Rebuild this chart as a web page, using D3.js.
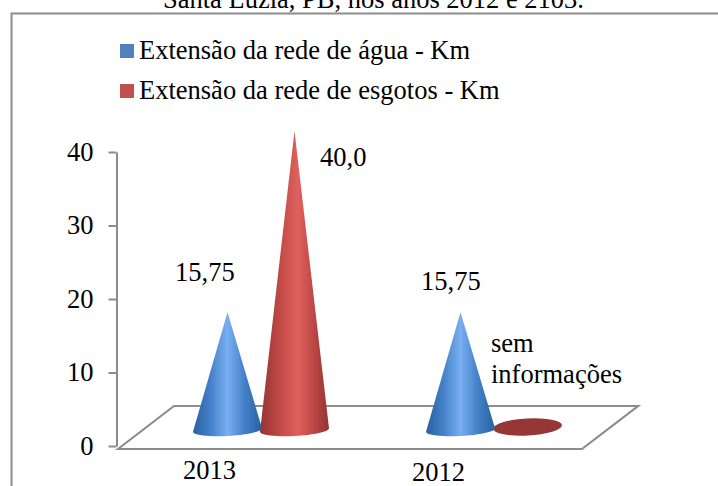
<!DOCTYPE html>
<html><head><meta charset="utf-8">
<script src="https://cdn.jsdelivr.net/npm/d3@7"></script>
<style>html,body{margin:0;padding:0;background:#fff;overflow:hidden}svg{display:block}text{font-family:"Liberation Serif",serif;fill:#000}</style>
</head><body><svg id="c" width="718" height="486"></svg>
<script>
const categories = ["2013", "2012"];
const seriesNames = ["Extensão da rede de água - Km", "Extensão da rede de esgotos - Km"];
const agua = [15.75, 15.75];
const esgotos = [40.0, 0];
const aguaLabels = ["15,75", "15,75"];
const esgotosLabels = ["40,0", "sem informações"];
const yTicks = [0, 10, 20, 30, 40];
const titleText = "Santa Luzia, PB, nos anos 2012 e 2103.";

const svg = d3.select("#c");
const FONT = 26.5, GREY = "#8c8c8c";
svg.append("text").attr("x", 373.5).attr("y", 8).attr("text-anchor", "middle").style("font-size", FONT + "px").text(titleText);
svg.append("rect").attr("x", 11.5).attr("y", 13.5).attr("width", 760).attr("height", 520).attr("fill", "#fff").attr("stroke", GREY).attr("stroke-width", 2);

const y = d3.scaleLinear().domain([0, 40]).range([446, 152]);
const yCone = d3.scaleLinear().domain([0, 40]).range([430, 131]);
const xBand = d3.scaleBand().domain(categories).range([144.5, 610.5]);
const xSeries = d3.scaleBand().domain(seriesNames).range([-67, 67]);

const defs = svg.append("defs");
function grad(id, stops) {
  const g = defs.append("linearGradient").attr("id", id).attr("x1", "0").attr("x2", "1").attr("y1", "0").attr("y2", "0");
  stops.forEach(s => g.append("stop").attr("offset", s[0]).attr("stop-color", s[1]));
}
grad("gBlue", [[0, "#2a619f"], [0.25, "#4380c8"], [0.5, "#79aef0"], [0.75, "#4380c8"], [1, "#2a619f"]]);
grad("gRed", [[0, "#933533"], [0.25, "#bb4643"], [0.55, "#e0605c"], [0.8, "#b84542"], [1, "#933533"]]);

// floor
const floorPts = [[118, 449], [174, 406], [638, 406], [582, 449]];
svg.append("path").attr("d", d3.line()(floorPts) + "Z").attr("fill", "none").attr("stroke", GREY).attr("stroke-width", 2.2);

// axis
const axis = d3.axisLeft(y).tickValues(yTicks).tickSize(8).tickSizeOuter(0).tickPadding(15);
const gA = svg.append("g").attr("transform", "translate(116.5,0)").call(axis);
gA.selectAll("path,line").attr("stroke", GREY).attr("stroke-width", 2);
gA.selectAll("text").style("font-size", FONT + "px").style("font-family", '"Liberation Serif",serif').attr("fill", "#000");

// cones, with a base ellipse that tilts slightly upward to the right
const RX = 34.5, RY = 6, TILT = 0.05;
function cone(cx, value, fill) {
  const base = yCone(0), top = yCone(value);
  const p = d3.path();
  p.moveTo(cx - RX, base + RX * TILT);
  p.lineTo(cx, top);
  p.lineTo(cx + RX, base - RX * TILT);
  d3.range(0, 25).map(i => i / 24 * Math.PI).forEach(a => {
    const dx = RX * Math.cos(a);
    p.lineTo(cx + dx, base + RY * Math.sin(a) - dx * TILT);
  });
  p.closePath();
  svg.append("path").attr("d", p.toString()).attr("fill", fill);
}
categories.forEach((c, i) => {
  const mid = xBand(c) + xBand.bandwidth() / 2;
  const cxA = mid + xSeries(seriesNames[0]) + xSeries.bandwidth() / 2;
  const cxE = mid + xSeries(seriesNames[1]) + xSeries.bandwidth() / 2;
  if (esgotos[i] > 0) cone(cxE, esgotos[i], "url(#gRed)");
  else svg.append("ellipse").attr("cx", cxE).attr("cy", yCone(0) - 3).attr("rx", RX).attr("ry", 8.5).attr("fill", "#953735")
    .attr("transform", `rotate(-3 ${cxE} ${yCone(0) - 3})`);
  cone(cxA, agua[i], "url(#gBlue)");
});

// legend
seriesNames.forEach((s, i) => {
  svg.append("rect").attr("x", 120).attr("y", 44 + i * 40).attr("width", 14).attr("height", 14).attr("fill", i ? "#c0504d" : "#4f81bd");
  svg.append("text").attr("x", 139).attr("y", 59 + i * 39.5).style("font-size", FONT + "px").text(s);
});

// data labels
const T = (x, yy, t) => svg.append("text").attr("x", x).attr("y", yy).style("font-size", FONT + "px").text(t);
T(175, 281, aguaLabels[0]);
T(320, 166, esgotosLabels[0]);
T(421, 290, aguaLabels[1]);
esgotosLabels[1].split(" ").forEach((w, i) => T(491, 352 + i * 31, w));
// category labels
T(183, 479, categories[0]);
T(412, 481, categories[1]);
</script></body></html>
